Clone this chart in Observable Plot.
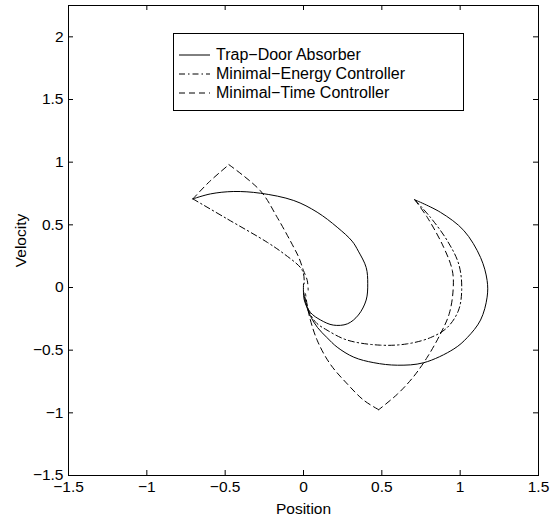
<!DOCTYPE html>
<html>
<head>
<meta charset="utf-8">
<script src="https://cdn.jsdelivr.net/npm/d3@7"></script>
<script src="https://cdn.jsdelivr.net/npm/@observablehq/plot@0.6"></script>
<style>
  body { margin: 0; background: #fff; }
  #wrap { position: relative; width: 557px; height: 517px; font-family: "Liberation Sans", Arial, sans-serif; }
  #legend { position: absolute; left: 173px; top: 33px; width: 289px; height: 76px; border: 1px solid #000; background: #fff; box-sizing: content-box; }
  .row { position: absolute; left: 5px; height: 20px; display: flex; align-items: center; font-size: 16px; color: #000; white-space: nowrap; }
  .row svg { margin-right: 5px; }
</style>
</head>
<body>
<div id="wrap"><div id="legend"></div></div>
<script>
// Tick values
const xTicks = [-1.5, -1, -0.5, 0, 0.5, 1, 1.5];
const yTicks = [-1.5, -1, -0.5, 0, 0.5, 1, 1.5, 2];
const xDomain = [-1.5, 1.5];
const yDomain = [-1.5, 2.25];

// Series names
const seriesNames = ["Trap\u2212Door Absorber", "Minimal\u2212Energy Controller", "Minimal\u2212Time Controller"];

// Trap-Door Absorber (solid), two trajectories
const trapLeftX = [-0.706, -0.593, -0.445, -0.274, -0.062, 0.087, 0.215, 0.31, 0.35, 0.40, 0.41, 0.40, 0.35, 0.28, 0.19, 0.11, 0.045, 0.005, 0.0];
const trapLeftY = [0.707, 0.747, 0.766, 0.752, 0.694, 0.601, 0.481, 0.37, 0.29, 0.16, 0.03, -0.10, -0.22, -0.29, -0.30, -0.26, -0.20, -0.10, 0.03];
const trapRightX = [0.71, 0.874, 1.023, 1.13, 1.172, 1.172, 1.13, 1.045, 0.96, 0.768, 0.60, 0.449, 0.321, 0.215, 0.15, 0.09, 0.045, 0.015, 0.002];
const trapRightY = [0.70, 0.60, 0.455, 0.24, 0.056, -0.077, -0.26, -0.40, -0.49, -0.60, -0.62, -0.60, -0.556, -0.476, -0.40, -0.32, -0.23, -0.13, -0.04];

// Minimal-Energy Controller (dash-dot)
const energyLeftX = [-0.706, -0.488, -0.232, -0.126, -0.02, 0.0, 0.005];
const energyLeftY = [0.707, 0.548, 0.361, 0.27, 0.16, 0.11, 0.03];
const energyRightX = [0.71, 0.81, 0.917, 0.99, 1.01, 0.99, 0.917, 0.81, 0.66, 0.49, 0.28, 0.15, 0.08, 0.035, 0.01];
const energyRightY = [0.70, 0.56, 0.375, 0.19, 0.0, -0.18, -0.32, -0.40, -0.45, -0.46, -0.42, -0.34, -0.28, -0.19, -0.08];

// Minimal-Time Controller (dashed), bang-bang pieces
const timeLeft1X = [-0.706, -0.60, -0.476];
const timeLeft1Y = [0.707, 0.845, 0.98];
const timeLeft2X = [-0.476, -0.274, -0.168, -0.062, -0.03, 0.0, 0.024, 0.03];
const timeLeft2Y = [0.98, 0.77, 0.56, 0.32, 0.24, 0.135, 0.056, -0.02];
const timeRight1X = [0.71, 0.79, 0.895, 0.95, 0.955, 0.93, 0.874, 0.79, 0.70, 0.60, 0.48];
const timeRight1Y = [0.70, 0.56, 0.32, 0.135, -0.02, -0.21, -0.37, -0.556, -0.715, -0.85, -0.975];
const timeRight2X = [0.48, 0.385, 0.28, 0.17, 0.087, 0.034, 0.013];
const timeRight2Y = [-0.975, -0.90, -0.77, -0.61, -0.42, -0.21, -0.05];

function pts(xs, ys, seg) { return xs.map((x, i) => ({x, y: ys[i], seg})); }
const trapData = [...pts(trapLeftX, trapLeftY, "L"), ...pts(trapRightX, trapRightY, "R")];
const energyData = [...pts(energyLeftX, energyLeftY, "L"), ...pts(energyRightX, energyRightY, "R")];
const timeData = [...pts(timeLeft1X, timeLeft1Y, "L1"), ...pts(timeLeft2X, timeLeft2Y, "L2"),
                  ...pts(timeRight1X, timeRight1Y, "R1"), ...pts(timeRight2X, timeRight2Y, "R2")];

const styles = [
  {dash: null},
  {dash: "6,3,1.5,3"},
  {dash: "6,4"}
];

const fmt = d => (d < 0 ? "\u2212" : "") + String(Math.abs(d));

const plot = Plot.plot({
  width: 557,
  height: 517,
  marginLeft: 68,
  marginRight: 19,
  marginTop: 5,
  marginBottom: 42,
  style: {fontFamily: "'Liberation Sans', Arial, sans-serif", fontSize: "15.5px", color: "#000", background: "#fff"},
  x: {domain: xDomain},
  y: {domain: yDomain},
  marks: [
    Plot.line(trapData, {x: "x", y: "y", z: "seg", curve: "catmull-rom", stroke: "#000", strokeWidth: 1}),
    Plot.line(energyData, {x: "x", y: "y", z: "seg", curve: "catmull-rom", stroke: "#000", strokeWidth: 1, strokeDasharray: styles[1].dash}),
    Plot.line(timeData, {x: "x", y: "y", z: "seg", curve: "catmull-rom", stroke: "#000", strokeWidth: 1, strokeDasharray: styles[2].dash}),
    // inward ticks on all four sides
    Plot.tickX(xTicks, {x: d => d, insetTop: 465, stroke: "#000"}),
    Plot.tickX(xTicks, {x: d => d, insetBottom: 465, stroke: "#000"}),
    Plot.tickY(yTicks, {y: d => d, insetRight: 465, stroke: "#000"}),
    Plot.tickY(yTicks, {y: d => d, insetLeft: 465, stroke: "#000"}),
    Plot.axisX({ticks: xTicks, tickFormat: fmt, tickSize: 0, tickPadding: 5, label: "Position", labelAnchor: "center", labelArrow: "none", labelOffset: 38}),
    Plot.axisY({ticks: yTicks, tickFormat: fmt, tickSize: 0, tickPadding: 5, label: "Velocity", labelAnchor: "center", labelArrow: "none", labelOffset: 54}),
    Plot.frame({stroke: "#000"})
  ]
});
document.getElementById("wrap").prepend(plot);

// Legend (overlay box inside the axes)
const legend = document.getElementById("legend");
seriesNames.forEach((name, i) => {
  const row = document.createElement("div");
  row.className = "row";
  row.style.top = (10.5 + i * 19.3) + "px";
  const svg = d3.create("svg").attr("width", 32).attr("height", 10);
  svg.append("line").attr("x1", 0).attr("x2", 31).attr("y1", 5).attr("y2", 5)
    .attr("stroke", "#000").attr("stroke-width", 1)
    .attr("stroke-dasharray", styles[i].dash);
  row.appendChild(svg.node());
  const span = document.createElement("span");
  span.textContent = name;
  row.appendChild(span);
  legend.appendChild(row);
});
</script>
</body>
</html>
